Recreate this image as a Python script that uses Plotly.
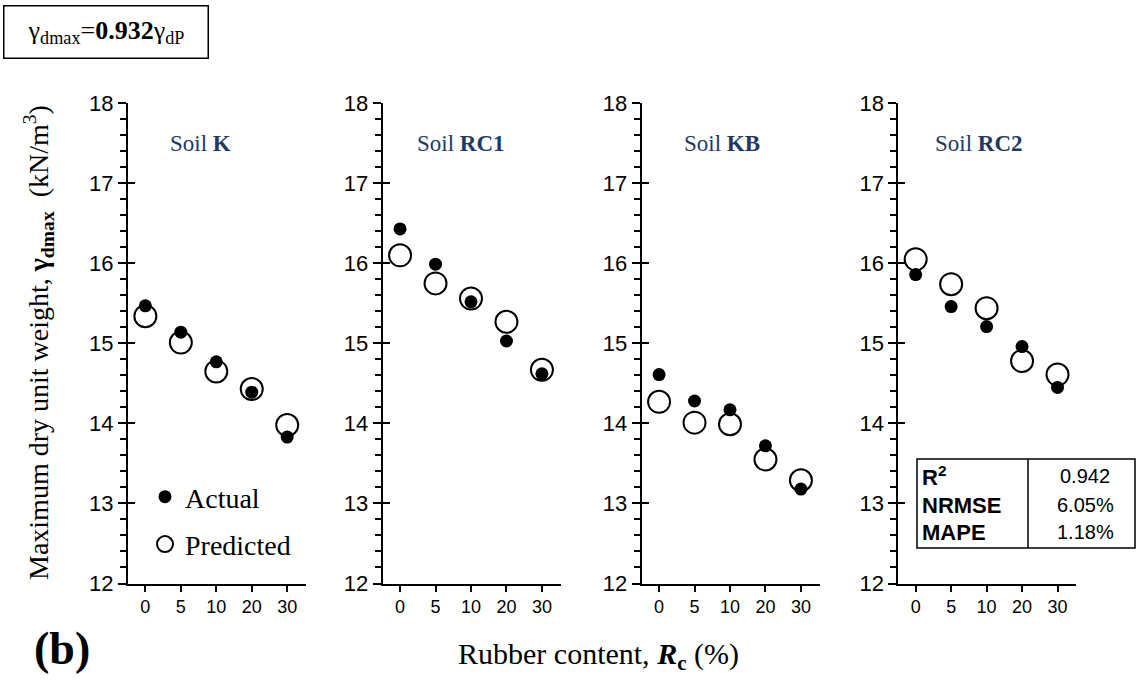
import plotly.graph_objects as go

W, H = 1137, 681

rubber = ["0", "5", "10", "20", "30"]
soils = ["K", "RC1", "KB", "RC2"]
actual = {
    "K":   [15.47, 15.14, 14.77, 14.39, 13.83],
    "RC1": [16.43, 15.99, 15.52, 15.03, 14.62],
    "KB":  [14.61, 14.28, 14.17, 13.72, 13.18],
    "RC2": [15.86, 15.46, 15.21, 14.96, 14.45],
}
predicted = {
    "K":   [15.34, 15.01, 14.65, 14.43, 13.98],
    "RC1": [16.10, 15.75, 15.56, 15.27, 14.67],
    "KB":  [14.27, 14.01, 13.99, 13.55, 13.29],
    "RC2": [16.05, 15.74, 15.44, 14.78, 14.61],
}
metric_names = ["R<sup>2</sup>", "NRMSE", "MAPE"]
metric_values = ["0.942", "6.05%", "1.18%"]

SERIF = "Liberation Serif"
SANS = "Liberation Sans"
NAVY = "#1F3864"

def px(x):
    return x / W

def py(y):
    return 1 - y / H

panel_left = [128, 382.7, 641.7, 898.3]
panel_w = 178
y_top, y_bot = 103.3, 583.5

fig = go.Figure()
for i, s in enumerate(soils):
    n = i + 1
    xa = "x" if n == 1 else f"x{n}"
    ya = "y" if n == 1 else f"y{n}"
    fig.add_trace(go.Scatter(
        x=rubber, y=predicted[s], mode="markers", xaxis=xa, yaxis=ya,
        name="Predicted", legendgroup="pred", legendrank=2, showlegend=(n == 1),
        marker=dict(size=22, color="white", line=dict(color="black", width=2)),
    ))
    fig.add_trace(go.Scatter(
        x=rubber, y=actual[s], mode="markers", xaxis=xa, yaxis=ya,
        name="Actual", legendgroup="act", legendrank=1, showlegend=(n == 1),
        marker=dict(size=13, color="black", line=dict(width=0)),
    ))

layout = dict(
    width=W, height=H, margin=dict(l=0, r=0, t=0, b=0, autoexpand=False),
    paper_bgcolor="white", plot_bgcolor="white",
    showlegend=True,
    legend=dict(x=px(145), y=py(472), xanchor="left", yanchor="top",
                font=dict(family=SERIF, size=28, color="black"),
                tracegroupgap=8, bgcolor="rgba(0,0,0,0)", itemwidth=30),
)
for i in range(4):
    n = i + 1
    xk = "xaxis" if n == 1 else f"xaxis{n}"
    yk = "yaxis" if n == 1 else f"yaxis{n}"
    xa = "x" if n == 1 else f"x{n}"
    ya = "y" if n == 1 else f"y{n}"
    layout[xk] = dict(
        domain=[px(panel_left[i]), px(panel_left[i] + panel_w)],
        anchor=ya, type="category", range=[-0.49, 4.53],
        showline=True, linecolor="black", linewidth=2,
        ticks="outside", ticklen=6, tickwidth=1.5, tickcolor="black",
        showgrid=False, zeroline=False,
        tickfont=dict(family=SANS, size=18, color="black"),
    )
    layout[yk] = dict(
        domain=[py(y_bot), py(y_top)], anchor=xa, range=[12, 18],
        dtick=1, showline=True, linecolor="black", linewidth=2,
        ticks="outside", ticklen=8, tickwidth=1.5, tickcolor="black",
        minor=dict(dtick=0.2, ticks="outside", ticklen=6, tickwidth=1.5, tickcolor="black"),
        showgrid=False, zeroline=False,
        tickfont=dict(family=SANS, size=22, color="black"),
    )
    # inner half of the crossing major ticks
    layout[f"yaxis{n + 4}"] = dict(
        overlaying=ya, anchor=xa, range=[12, 18], dtick=1,
        ticks="inside", ticklen=7, tickwidth=1.5, tickcolor="black",
        showticklabels=False, showline=False, showgrid=False, zeroline=False,
    )
fig.update_layout(**layout)

# invisible helpers so the overlay axes get drawn
for i in range(4):
    n = i + 1
    xa = "x" if n == 1 else f"x{n}"
    fig.add_trace(go.Scatter(x=[rubber[0]], y=[12], xaxis=xa, yaxis=f"y{n + 4}",
                             mode="markers", marker=dict(opacity=0), showlegend=False,
                             hoverinfo="skip"))

ann = []
title_left = [168, 415, 682, 933]
for i, s in enumerate(soils):
    ann.append(dict(x=px(title_left[i]), y=py(144), xref="paper", yref="paper",
                    xanchor="left", yanchor="middle", showarrow=False,
                    text=f"Soil <b>{s}</b>",
                    font=dict(family=SERIF, size=23, color=NAVY)))

ann.append(dict(x=px(3), y=py(5), xref="paper", yref="paper", xanchor="left", yanchor="top",
                showarrow=False, width=199, height=47, borderpad=2,
                bordercolor="black", borderwidth=1.5, bgcolor="white",
                text="γ<sub>dmax</sub>=<b>0.932</b>γ<sub>dP</sub>",
                font=dict(family=SERIF, size=26, color="black")))

ann.append(dict(x=px(38), y=py(343), xref="paper", yref="paper", xanchor="center", yanchor="middle",
                showarrow=False, textangle=-90,
                text="Maximum dry unit weight, <b>γ<sub>dmax</sub></b>  (kN/m<sup>3</sup>)",
                font=dict(family=SERIF, size=28, color="black")))

ann.append(dict(x=px(598), y=py(656), xref="paper", yref="paper", xanchor="center", yanchor="middle",
                showarrow=False,
                text="Rubber content, <b><i>R</i><sub>c</sub></b> (%)",
                font=dict(family=SERIF, size=30, color="black")))

ann.append(dict(x=px(62), y=py(648), xref="paper", yref="paper", xanchor="center", yanchor="middle",
                showarrow=False, text="<b>(b)</b>",
                font=dict(family=SERIF, size=46, color="black")))

row_y = [476, 505, 532]
for name, val, ry in zip(metric_names, metric_values, row_y):
    ann.append(dict(x=px(920), y=py(ry), xref="paper", yref="paper", xanchor="left", yanchor="middle",
                    showarrow=False, text=f"<b>{name}</b>",
                    font=dict(family=SANS, size=22, color="black")))
    ann.append(dict(x=px(1085), y=py(ry), xref="paper", yref="paper", xanchor="center", yanchor="middle",
                    showarrow=False, text=val,
                    font=dict(family=SANS, size=20, color="black")))

shapes = [
    dict(type="rect", xref="paper", yref="paper", x0=px(917), x1=px(1135), y0=py(548), y1=py(459),
         line=dict(color="black", width=1.5)),
    dict(type="line", xref="paper", yref="paper", x0=px(1028), x1=px(1028), y0=py(548), y1=py(459),
         line=dict(color="black", width=1.5)),
]
fig.update_layout(annotations=ann, shapes=shapes)

fig.write_html("out.html")
